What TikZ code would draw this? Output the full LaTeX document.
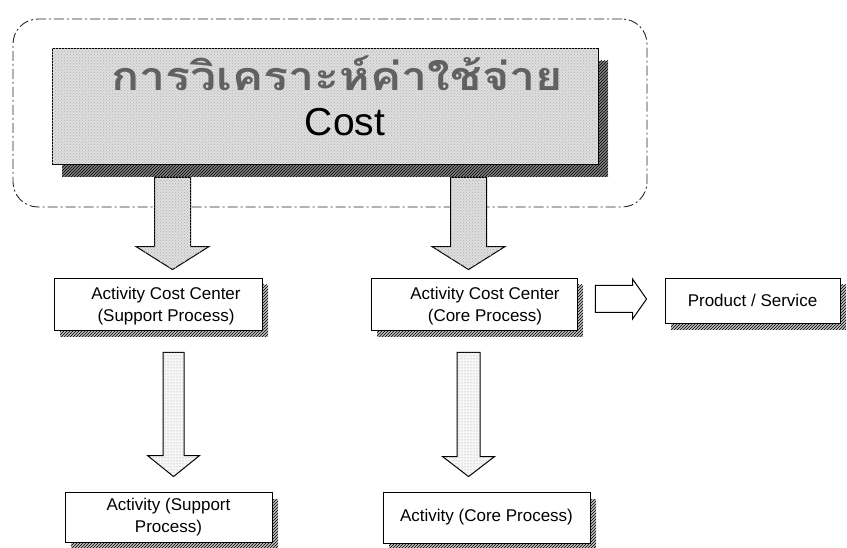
\documentclass[tikz,border=0pt]{standalone}
\usepackage{graphicx}
\usepackage{fontspec}
\setmainfont{Liberation Sans}
\newfontfamily\thaifont[Script=Thai]{Loma}
\usetikzlibrary{calc,patterns}

% vertical block arrow: start, tip, half shaft, half head, head length, style
\newcommand\vblock[6]{%
  \draw[#6] ($(#1)+(-#3,0)$) -- ($(#2)+(-#3,-#5)$) -- ($(#2)+(-#4,-#5)$) -- (#2)
    -- ($(#2)+(#4,-#5)$) -- ($(#2)+(#3,-#5)$) -- ($(#1)+(#3,0)$) -- cycle;}
% horizontal block arrow, same arguments
\newcommand\hblock[6]{%
  \draw[#6] ($(#1)+(0,-#3)$) -- ($(#2)+(-#5,-#3)$) -- ($(#2)+(-#5,-#4)$) -- (#2)
    -- ($(#2)+(-#5,#4)$) -- ($(#2)+(-#5,#3)$) -- ($(#1)+(0,#3)$) -- cycle;}

\tikzset{
  hatchshadow/.style 2 args={
    preaction={draw=none, fill=black!25, transform canvas={shift={(#1,#2)}}},
    preaction={draw=none, pattern=north east lines, pattern color=black,
               transform canvas={shift={(#1,#2)}}}},
  procbox/.style={draw=black, line width=0.9pt, fill=white, inner sep=0pt,
                  hatchshadow={6pt}{-7pt}},
  boxtext/.style={font=\fontsize{17}{22}\selectfont, align=center, inner sep=0pt},
  costbox/.style={draw=black, line width=1pt, fill=black!13, inner sep=0pt,
                  postaction={pattern=crosshatch dots, pattern color=black!30},
                  preaction={draw=none, fill=black!50, transform canvas={shift={(10pt,-12pt)}}},
                  preaction={draw=none, pattern=north east lines, pattern color=black,
                             transform canvas={shift={(10pt,-12pt)}}}},
  frame/.style={draw=black!85, line width=0.9pt, rounded corners=25pt,
                dash pattern=on 10pt off 3pt on 2pt off 3pt, inner sep=0pt},
  bigarrow/.style={draw=black, line width=1pt, line join=miter, fill=black!13,
                   postaction={pattern=crosshatch dots, pattern color=black!30}},
  thinarrow/.style={draw=black, line width=1pt, line join=miter, fill=black!3,
                    postaction={pattern=dots, pattern color=black!40}},
  hollowarrow/.style={draw=black, line width=1pt, line join=miter, fill=white},
}

\begin{document}
\begin{tikzpicture}[x=1pt, y=-1pt]
\useasboundingbox (0,0) rectangle (847,548);

% dash-dot frame around the heading
\node[frame, minimum width=634pt, minimum height=188pt] (frame) at (330,113) {};

% heading box
\node[costbox, minimum width=546pt, minimum height=116pt] (cost) at (325,107) {};
\node[inner sep=0pt, anchor=base, text depth=0pt, text=black!62] (thai) at (337,91)
  {\scalebox{1}[0.85]{\fontsize{46.5}{50}\selectfont\thaifont\bfseries การวิเคราะห์ค่าใช้จ่าย}};
\node[inner sep=0pt, anchor=base, text height=28pt] (costlabel) at (345,136)
  {\fontsize{39}{39}\selectfont Cost};

% process boxes
\node[procbox, minimum width=208pt, minimum height=52pt] (b1) at (158,304) {};
\node[boxtext] (t1) at (166,306) {Activity Cost Center\\(Support Process)};
\node[procbox, minimum width=206pt, minimum height=52pt] (b2) at (474,304) {};
\node[boxtext] (t2) at (485,306) {Activity Cost Center\\(Core Process)};
\node[procbox, boxtext, minimum width=175pt, minimum height=45pt] (b3) at (752.5,300.5) {Product / Service};
\node[procbox, boxtext, minimum width=207pt, minimum height=50pt] (b4) at (168.5,517) {Activity (Support\\Process)};
\node[procbox, boxtext, minimum width=207pt, minimum height=51pt] (b5) at (486.5,517.5) {Activity (Core Process)};

% arrow end points
\coordinate (a1s) at ($(cost.south west)+(121,12)$);
\coordinate (a1e) at ($(a1s |- b1.north)+(0,-8)$);
\coordinate (a2s) at ($(cost.south west)+(417,12)$);
\coordinate (a2e) at ($(a2s |- b2.north)+(0,-8)$);
\coordinate (a3s) at ($(b1.south west)+(120,22)$);
\coordinate (a3e) at ($(a3s |- b4.north)+(0,-15)$);
\coordinate (a4s) at ($(b2.south west)+(98,22)$);
\coordinate (a4e) at ($(a4s |- b5.north)+(0,-15)$);
\coordinate (a5s) at ($(b2.east)+(18,-5)$);
\coordinate (a5e) at ($(b3.west |- a5s)+(-18,0)$);

% arrows
\vblock{a1s}{a1e}{18}{36.5}{23}{bigarrow}
\vblock{a2s}{a2e}{18}{36.5}{23}{bigarrow}
\vblock{a3s}{a3e}{10.5}{26}{21}{thinarrow}
\vblock{a4s}{a4e}{11.5}{26}{20}{thinarrow}
\hblock{a5s}{a5e}{13.5}{20}{14}{hollowarrow}
\end{tikzpicture}
\end{document}
